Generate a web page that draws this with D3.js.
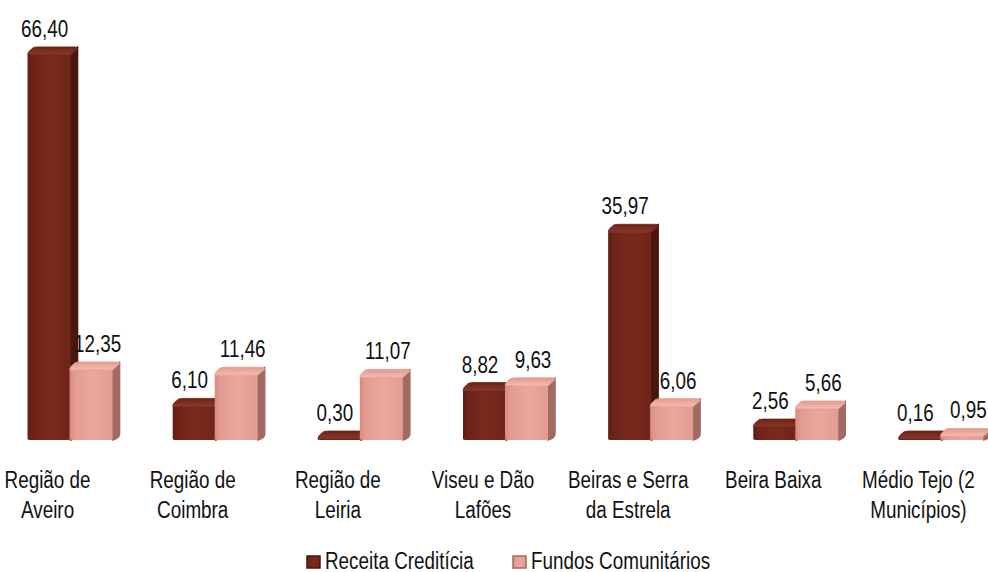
<!DOCTYPE html>
<html>
<head>
<meta charset="utf-8">
<script src="https://cdn.jsdelivr.net/npm/d3@7/dist/d3.min.js"></script>
<style>
  html, body { margin: 0; padding: 0; background: #ffffff; }
  svg { display: block; }
  text { font-family: "Liberation Sans", Arial, sans-serif; fill: #111; }
</style>
</head>
<body>
<svg id="chart" width="988" height="572"></svg>
<script>
const categories = [
  ["Região de", "Aveiro"],
  ["Região de", "Coimbra"],
  ["Região de", "Leiria"],
  ["Viseu e Dão", "Lafões"],
  ["Beiras e Serra", "da Estrela"],
  ["Beira Baixa"],
  ["Médio Tejo (2", "Municípios)"]
];
const seriesNames = ["Receita Creditícia", "Fundos Comunitários"];
const receita = [66.40, 6.10, 0.30, 8.82, 35.97, 2.56, 0.16];
const fundos = [12.35, 11.46, 11.07, 9.63, 6.06, 5.66, 0.95];

const W = 988, H = 572;
const base = 440;
const SX = 0.82; // horizontal condensing to imitate a narrow font
const svg = d3.select("#chart");
const defs = svg.append("defs");

const catKeys = categories.map(c => c.join(" "));
const x = d3.scaleBand().domain(catKeys).range([0, 1016]).padding(0);
const y = d3.scaleLinear().domain([0, 70]).range([442, 442 - 5.83 * 70]);

const fmt = d3.formatLocale({decimal: ",", thousands: ".", grouping: [3], currency: ["", "€"]}).format(".2f");

function narrowText(parent, tx, ty, str, anchor) {
  return parent.append("text")
    .attr("transform", `translate(${tx},${ty}) scale(${SX},1)`)
    .attr("text-anchor", anchor || "middle")
    .attr("font-size", 23)
    .text(str);
}

const palettes = [
  {front: ["#5f1b12", "#7a2a1d", "#6e2418"], side: "#4a160e", top: ["#6c2317", "#8a3829"]},
  {front: ["#d88a7f", "#eca79c", "#e29b90"], side: "#a36a62", top: ["#e49a8f", "#f3bcb1"]}
];
palettes.forEach((p, i) => {
  const gf = defs.append("linearGradient").attr("id", "front" + i).attr("x1", 0).attr("x2", 1).attr("y1", 0).attr("y2", 0);
  gf.append("stop").attr("offset", "0%").attr("stop-color", p.front[0]);
  gf.append("stop").attr("offset", "12%").attr("stop-color", p.front[2]);
  gf.append("stop").attr("offset", "55%").attr("stop-color", p.front[1]);
  gf.append("stop").attr("offset", "100%").attr("stop-color", p.front[2]);
  const gt = defs.append("linearGradient").attr("id", "top" + i).attr("x1", 0).attr("x2", 0).attr("y1", 1).attr("y2", 0);
  gt.append("stop").attr("offset", "0%").attr("stop-color", p.top[1]);
  gt.append("stop").attr("offset", "100%").attr("stop-color", p.top[0]);
});

const dx = 7, dy = 8;
const frontW = 43;
const offsets = [-45, -3]; // front-face left edge relative to category center

function drawBar(g, cx, v, si) {
  const x0 = cx + offsets[si];
  const x1 = x0 + frontW;
  const yf = Math.min(y(v), base - 1);
  const p = palettes[si];
  // side
  g.append("path")
    .attr("d", `M${x1},${yf} L${x1 + dx},${yf - dy} L${x1 + dx},${base - dy + 2} Q${x1 + dx},${base - 2} ${x1},${base} Z`)
    .attr("fill", p.side)
    .attr("stroke", p.side).attr("stroke-width", 1.5).attr("stroke-linejoin", "round");
  // front
  g.append("path")
    .attr("d", `M${x0},${yf} L${x1},${yf} L${x1},${base - 1} Q${x1},${base} ${x1 - 3},${base} L${x0 + 3},${base} Q${x0},${base} ${x0},${base - 1} Z`)
    .attr("fill", `url(#front${si})`);
  // top
  g.append("path")
    .attr("d", `M${x0},${yf} Q${x0},${yf - 3} ${x0 + 4},${yf - dy + 2} Q${x0 + dx - 2},${yf - dy} ${x0 + dx + 3},${yf - dy} L${x1 + dx - 3},${yf - dy} Q${x1 + dx},${yf - dy} ${x1 + dx},${yf - dy + 2} L${x1},${yf} Z`)
    .attr("fill", `url(#top${si})`)
    .attr("stroke", p.top[0]).attr("stroke-width", 0.8).attr("stroke-linejoin", "round");
}

const gBars = svg.append("g");
catKeys.forEach((k, i) => {
  const cx = x(k) + x.bandwidth() / 2;
  drawBar(gBars, cx, receita[i], 0);
  drawBar(gBars, cx, fundos[i], 1);
});

// value labels
const labelOffsets = [-28, 25];
const gVals = svg.append("g");
[receita, fundos].forEach((arr, si) => {
  arr.forEach((d, i) => {
    narrowText(gVals,
      x(catKeys[i]) + x.bandwidth() / 2 + labelOffsets[si],
      Math.min(y(d), base - 1) - dy - 10,
      fmt(d));
  });
});

// category labels
const gCat = svg.append("g");
categories.forEach((lines, i) => {
  const cx = x(catKeys[i]) + x.bandwidth() / 2 - 25;
  lines.forEach((ln, j) => narrowText(gCat, cx, 488 + j * 30, ln));
});

// legend
const legendItems = [
  {name: seriesNames[0], x: 307, si: 0},
  {name: seriesNames[1], x: 513, si: 1}
];
const gLeg = svg.append("g");
legendItems.forEach(it => {
  const p = palettes[it.si];
  gLeg.append("rect").attr("x", it.x).attr("y", 556).attr("width", 13).attr("height", 12)
    .attr("fill", `url(#front${it.si})`).attr("stroke", p.side).attr("stroke-width", 1.5);
  narrowText(gLeg, it.x + 18, 569, it.name, "start");
});
</script>
</body>
</html>
